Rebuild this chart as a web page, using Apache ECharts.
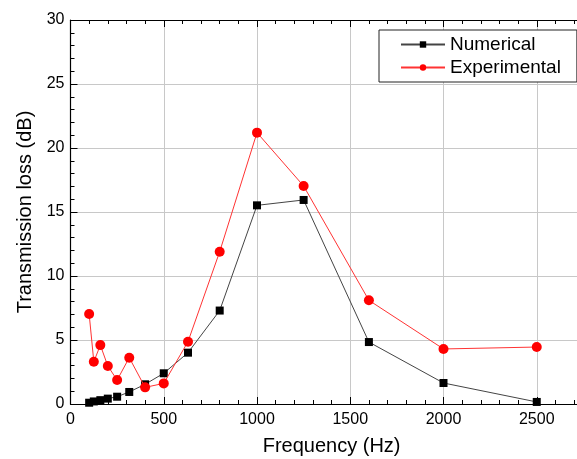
<!DOCTYPE html>
<html>
<head>
<meta charset="utf-8">
<script src="https://cdn.jsdelivr.net/npm/echarts@6/dist/echarts.min.js"></script>
<style>
  html, body { margin: 0; padding: 0; background: #fff; }
  #chart { width: 577px; height: 459px; }
</style>
</head>
<body>
<div id="chart"></div>
<script>
// One-third octave band centre frequencies (Hz)
const frequencies = [100, 125, 160, 200, 250, 315, 400, 500, 630, 800, 1000, 1250, 1600, 2000, 2500];
// Transmission loss (dB)
const numerical    = [0.1, 0.2, 0.3, 0.42, 0.57, 0.94, 1.54, 2.4, 4.01, 7.3, 15.52, 15.94, 4.84, 1.64, 0.16];
const experimental = [7.03, 3.3, 4.6, 2.97, 1.87, 3.62, 1.3, 1.61, 4.87, 11.9, 21.2, 17.03, 8.1, 4.3, 4.45];

const seriesNames = ['Numerical', 'Experimental'];

const pairs = (xs, ys) => xs.map((x, i) => [x, ys[i]]);

const font = 'Liberation Sans, Arial, sans-serif';
const chart = echarts.init(document.getElementById('chart'), null, { renderer: 'canvas' });

const xMax = 2800;
const pxPerHz = 0.1865;

const baseX = {
  type: 'value', min: 0, max: xMax, interval: 500,
  axisLine: { show: true, onZero: false, lineStyle: { color: '#000', width: 1.2 } },
  axisTick: { show: true, inside: true, length: 7, lineStyle: { color: '#000' } },
  minorTick: { show: true, splitNumber: 5, length: 4, lineStyle: { color: '#000' } },
  minorSplitLine: { show: false }
};

chart.setOption({
  animation: false,
  backgroundColor: '#fff',
  grid: {
    left: 70.5, top: 20, width: xMax * pxPerHz, height: 384,
    containLabel: false, outerBoundsMode: 'none'
  },
  legend: {
    orient: 'vertical',
    left: 379, top: 30,
    padding: [5, 16, 5, 21],
    itemGap: 4,
    itemWidth: 44,
    itemHeight: 8,
    borderColor: '#222',
    borderWidth: 1,
    backgroundColor: '#fff',
    textStyle: { fontFamily: font, fontSize: 19, color: '#000' },
    data: seriesNames
  },
  xAxis: [
    Object.assign({}, baseX, {
      position: 'bottom',
      name: 'Frequency (Hz)',
      nameLocation: 'middle',
      nameGap: 32,
      nameTextStyle: { fontFamily: font, fontSize: 20, color: '#000' },
      axisLabel: {
        show: true, fontFamily: font, fontSize: 16, color: '#000', margin: 8,
        showMaxLabel: false, formatter: v => String(v)
      },
      splitLine: { show: true, lineStyle: { color: '#c8c8c8', width: 1 } }
    }),
    Object.assign({}, baseX, {
      position: 'top',
      axisLabel: { show: false },
      splitLine: { show: false }
    })
  ],
  yAxis: {
    type: 'value', min: 0, max: 30, interval: 5,
    name: 'Transmission loss (dB)',
    nameLocation: 'middle',
    nameGap: 31,
    nameTextStyle: { fontFamily: font, fontSize: 20, color: '#000' },
    axisLine: { show: true, onZero: false, lineStyle: { color: '#000', width: 1.2 } },
    axisTick: { show: true, inside: true, length: 7, lineStyle: { color: '#000' } },
    minorTick: { show: true, splitNumber: 5, length: 4, lineStyle: { color: '#000' } },
    axisLabel: { fontFamily: font, fontSize: 16, color: '#000', margin: 6 },
    splitLine: { show: true, lineStyle: { color: '#c8c8c8', width: 1 } }
  },
  series: [
    {
      name: seriesNames[0],
      type: 'line',
      data: pairs(frequencies, numerical),
      symbol: 'rect',
      symbolSize: 8,
      itemStyle: { color: '#000' },
      lineStyle: { color: '#444', width: 1 },
      z: 3
    },
    {
      name: seriesNames[1],
      type: 'line',
      data: pairs(frequencies, experimental),
      symbol: 'circle',
      symbolSize: 10,
      itemStyle: { color: '#ff0000' },
      lineStyle: { color: '#ff3333', width: 1 },
      z: 4
    }
  ]
});
</script>
</body>
</html>
